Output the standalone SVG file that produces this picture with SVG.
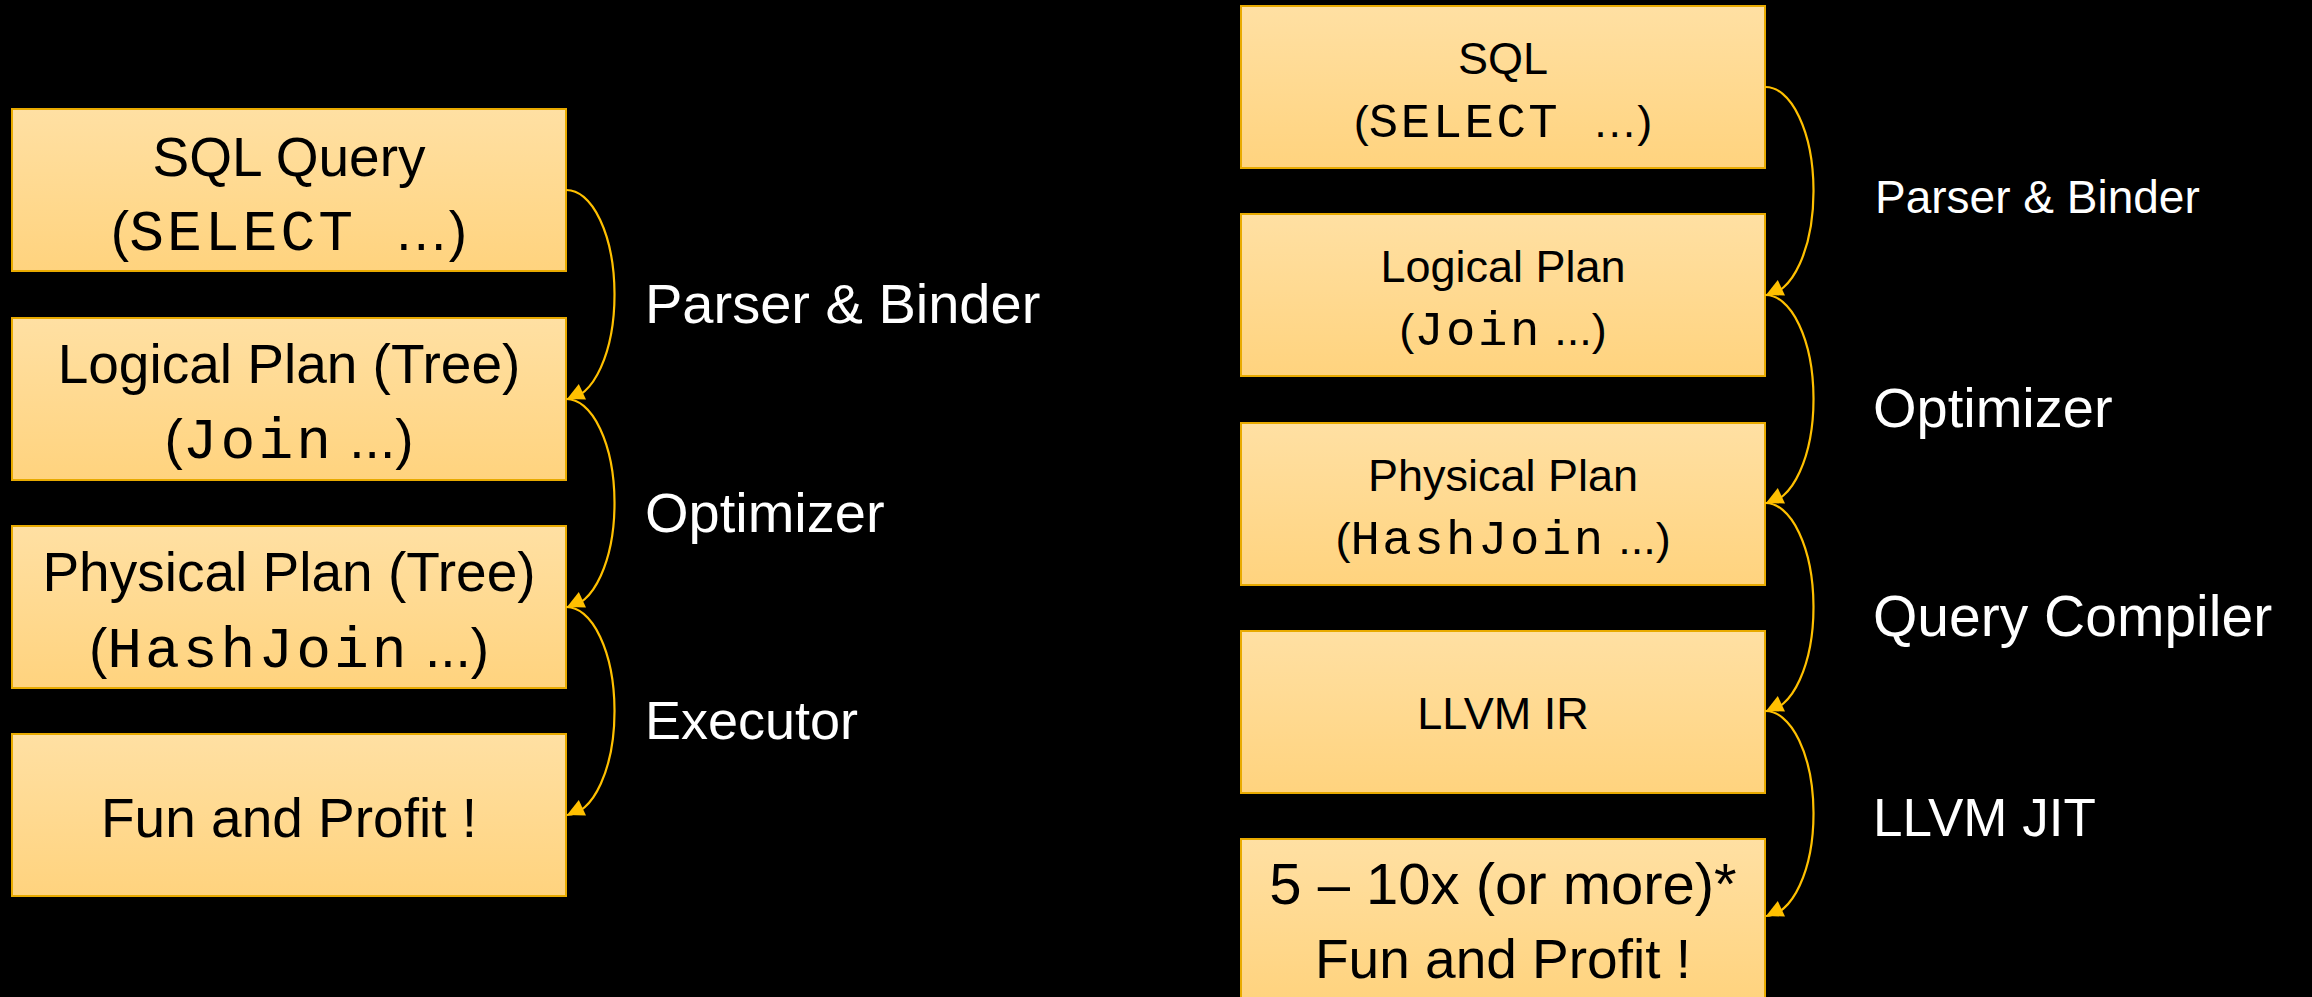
<svg xmlns="http://www.w3.org/2000/svg" width="2312" height="997" viewBox="0 0 2312 997">
  <defs>
    <linearGradient id="boxFill" x1="0" y1="0" x2="0" y2="1">
      <stop offset="0" stop-color="#FFE0A3"/>
      <stop offset="1" stop-color="#FFD37E"/>
    </linearGradient>
    <marker id="arrow" markerUnits="userSpaceOnUse" markerWidth="20" markerHeight="20" refX="17" refY="0" orient="155" overflow="visible">
      <path d="M0,-8.5 L17,0 L0,8.5 Z" fill="#FFC000"/>
    </marker>
    <style>
      .box { fill: url(#boxFill); stroke: #E8AA00; stroke-width: 2; }
      .t { font-family: "Liberation Sans", Arial, sans-serif; fill: #000; text-anchor: middle; }
      .big { font-size: 55px; }
      .small { font-size: 45px; }
      .mono { font-family: "Liberation Mono", "Courier New", monospace; }
      .big .mono { font-size: 58px; letter-spacing: 3px; }
      .small .mono { font-size: 49px; letter-spacing: 2.5px; }
      .lbl { font-family: "Liberation Sans", Arial, sans-serif; fill: #FFFFFF; font-size: 56px; }
      .lbl-s { font-size: 46px; }
      .conn { fill: none; stroke: #FFC000; stroke-width: 2.2; marker-end: url(#arrow); }
    </style>
  </defs>

  <rect width="2312" height="997" fill="#000"/>

  <!-- Interpreted pipeline (left column) -->
  <g id="l-sql">
    <rect class="box" x="12" y="109" width="554" height="162"/>
    <text class="t big" x="289" y="176">SQL Query</text>
    <text class="t big" x="289" y="250">(<tspan class="mono">SELECT </tspan>…)</text>
  </g>
  <g id="l-logical">
    <rect class="box" x="12" y="318" width="554" height="162"/>
    <text class="t big" x="289" y="383">Logical Plan (Tree)</text>
    <text class="t big" x="289" y="458">(<tspan class="mono">Join</tspan> ...)</text>
  </g>
  <g id="l-physical">
    <rect class="box" x="12" y="526" width="554" height="162"/>
    <text class="t big" x="289" y="591">Physical Plan (Tree)</text>
    <text class="t big" x="289" y="667">(<tspan class="mono">HashJoin</tspan> ...)</text>
  </g>
  <g id="l-result">
    <rect class="box" x="12" y="734" width="554" height="162"/>
    <text class="t big" x="289" y="837">Fun and Profit !</text>
  </g>

  <!-- Compiled pipeline (right column) -->
  <g id="r-sql">
    <rect class="box" x="1241" y="6" width="524" height="162"/>
    <text class="t small" x="1503" y="74">SQL</text>
    <text class="t small" x="1503" y="137">(<tspan class="mono">SELECT </tspan>…)</text>
  </g>
  <g id="r-logical">
    <rect class="box" x="1241" y="214" width="524" height="162"/>
    <text class="t small" x="1503" y="282">Logical Plan</text>
    <text class="t small" x="1503" y="345">(<tspan class="mono">Join</tspan> ...)</text>
  </g>
  <g id="r-physical">
    <rect class="box" x="1241" y="423" width="524" height="162"/>
    <text class="t small" x="1503" y="491">Physical Plan</text>
    <text class="t small" x="1503" y="554">(<tspan class="mono">HashJoin</tspan> ...)</text>
  </g>
  <g id="r-llvm-ir">
    <rect class="box" x="1241" y="631" width="524" height="162"/>
    <text class="t small" x="1503" y="729">LLVM IR</text>
  </g>
  <g id="r-result">
    <rect class="box" x="1241" y="839" width="524" height="162"/>
    <text class="t big" x="1503" y="904" style="font-size:58px">5 – 10x (or more)*</text>
    <text class="t big" x="1503" y="978">Fun and Profit !</text>
  </g>

  <!-- Stage arrows: half-ellipse arcs from one box's right edge to the next -->
  <g id="connectors">
    <path class="conn" d="M566,190 A48,104.5 0 0 1 567,399"/>
    <path class="conn" d="M566,399 A48,104 0 0 1 567,607"/>
    <path class="conn" d="M566,607 A48,104 0 0 1 567,815"/>

    <path class="conn" d="M1765,87 A48,104 0 0 1 1766,295"/>
    <path class="conn" d="M1765,295 A48,104 0 0 1 1766,503"/>
    <path class="conn" d="M1765,503 A48,104 0 0 1 1766,711"/>
    <path class="conn" d="M1765,711 A48,102.5 0 0 1 1766,916"/>
  </g>

  <!-- Stage names -->
  <g id="connector-labels">
    <text class="lbl" x="645" y="323">Parser &amp; Binder</text>
    <text class="lbl" x="645" y="532">Optimizer</text>
    <text class="lbl" x="645" y="739" style="font-size:54px">Executor</text>

    <text class="lbl lbl-s" x="1875" y="213">Parser &amp; Binder</text>
    <text class="lbl" x="1873" y="427">Optimizer</text>
    <text class="lbl" x="1873" y="636" style="font-size:57px">Query Compiler</text>
    <text class="lbl" x="1873" y="836" style="font-size:53px">LLVM JIT</text>
  </g>
</svg>
